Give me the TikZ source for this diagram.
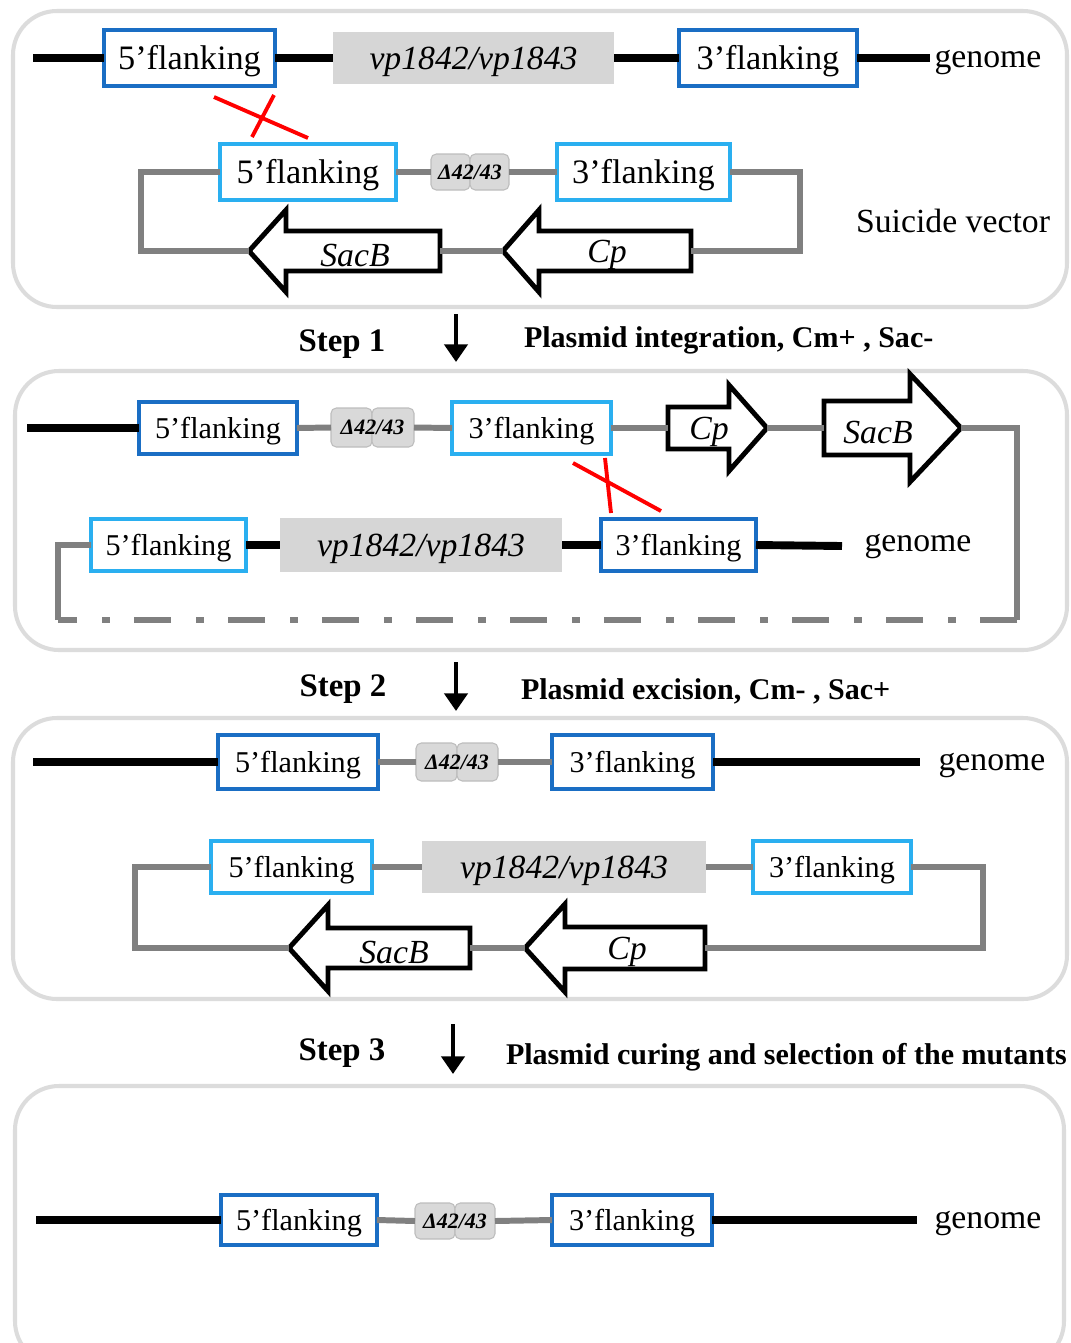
\documentclass[tikz,border=0pt]{standalone}
\usepackage{fontspec}
\setmainfont{Liberation Serif}
\usetikzlibrary{arrows.meta}
\definecolor{dkblue}{HTML}{1A6EC4}
\definecolor{ltblue}{HTML}{2AAFF0}
\definecolor{genegray}{HTML}{D6D6D6}
\definecolor{delgray}{HTML}{D9D9D9}
\definecolor{delborder}{HTML}{BDBDBD}
\definecolor{linegray}{HTML}{808080}
\definecolor{panelgray}{HTML}{DCDCDC}
\newcommand\ffa{\fontsize{19.5pt}{22pt}\selectfont}
\newcommand\ffb{\fontsize{17.2pt}{20pt}\selectfont}
\newcommand\fgn{\fontsize{19.2pt}{22pt}\selectfont}
\newcommand\fdel{\fontsize{12.5pt}{14pt}\selectfont\bfseries\itshape}
\newcommand\fstep{\fontsize{18.7pt}{21pt}\selectfont\bfseries}
\newcommand\fdesc{\fontsize{17.1pt}{20pt}\selectfont\bfseries}
% box: name, x1, y1, x2, y2, style, text
\newcommand\bx[7]{\node[#6, minimum width={(#4-#2)*0.02cm}, minimum height={(#5-#3)*0.02cm}] (#1) at ({(#2+#4)/2},{(#3+#5)/2}) {#7};}
% gene arrow: name, tipx, basex, endx, cy, bodyhalf, headhalf, labelx, label
\newcommand\garrow[9]{%
  \draw[gar] (#2,#5) -- (#3,#5-#7) -- (#3,#5-#6) -- (#4,#5-#6) -- (#4,#5+#6) -- (#3,#5+#6) -- (#3,#5+#7) -- cycle;
  \coordinate (#1tip) at (#2,#5);
  \coordinate (#1end) at (#4,#5);
  \node[font=\fgn\itshape] (#1) at (#8,#5+4) {#9};}
% deletion: name, x1, x2, x3, y1, y2
\newcommand\delbox[6]{%
  \node[del, minimum width={(#3-#2)*0.02cm}, minimum height={(#6-#5)*0.02cm}] (#1a) at ({(#2+#3)/2},{(#5+#6)/2}) {};
  \node[del, minimum width={(#4-#3)*0.02cm}, minimum height={(#6-#5)*0.02cm}] (#1b) at ({(#3+#4)/2},{(#5+#6)/2}) {};
  \node[font=\fdel] (#1t) at ({(#2+#4)/2},{(#5+#6)/2}) {Δ42/43};}
\begin{document}
\begin{tikzpicture}[x=0.02cm, y=-0.02cm,
  every node/.style={inner sep=0pt, outer sep=0pt},
  fa/.style={font=\ffa, text height=15.2pt, text depth=2.2pt},
  fb/.style={font=\ffb, text height=13.4pt, text depth=2pt},
  dk/.style={draw=dkblue, line width=2.3pt, fill=white},
  lt/.style={draw=ltblue, line width=2.3pt, fill=white},
  gene/.style={fill=genegray, draw=none, font=\fgn\itshape, text height=15pt, text depth=2.2pt},
  del/.style={fill=delgray, draw=delborder, line width=0.6pt, rounded corners=3pt},
  blk/.style={line width=4.5pt, black},
  gry/.style={line width=3.4pt, linegray, line join=miter},
  gar/.style={draw=black, line width=2.8pt, fill=white, line join=miter},
  panel/.style={draw=panelgray, line width=2.3pt, rounded corners=25pt},
  cross/.style={red, line width=2.2pt},
  stepar/.style={-{Triangle[length=10pt,width=13pt]}, line width=2.6pt, black}]
\useasboundingbox (0,0) rectangle (1071,1343);
\fill[white] (0,0) rectangle (1071,1343);

% ---------- panels ----------
\draw[panel] (13,11) rectangle (1067,307);
\draw[panel] (15,371) rectangle (1067,650);
\draw[panel] (13,718) rectangle (1067,999);
\draw[panel] (15,1086) rectangle (1064,1365);

% ---------- panel 1 ----------
\bx{a5}{104}{30}{275}{86}{dk,fa}{5’flanking}
\bx{avp}{333}{32}{614}{84}{gene}{vp1842/vp1843}
\bx{a3}{679}{30}{857}{86}{dk,fa}{3’flanking}
\coordinate (ag0) at (33,58);
\coordinate (ag1) at (930,58);
\node[font=\fgn] (agen) at (988,62) {genome};
\draw[blk] (ag0) -- (a5.west);
\draw[blk] (a5.east) -- (avp.west);
\draw[blk] (avp.east) -- (a3.west);
\draw[blk] (a3.east) -- (ag1);

\bx{b5}{220}{144}{396}{200}{lt,fa}{5’flanking}
\delbox{bd}{431}{470}{509}{154}{190}
\bx{b3}{557}{144}{730}{200}{lt,fa}{3’flanking}
\garrow{sbA}{249}{286}{440}{251}{20}{41}{355}{SacB}
\garrow{cpA}{503}{539}{691}{251}{20}{41}{607}{Cp}
\coordinate (rc1) at (800,251);
\coordinate (lc1) at (141,251);
\draw[gry] (b5.east) -- (bda.west);
\draw[gry] (bdb.east) -- (b3.west);
\draw[gry] (b3.east) -| (rc1) -- (cpAend);
\draw[gry] (cpAtip) -- (sbAend);
\draw[gry] (sbAtip) -- (lc1) |- (b5.west);
\node[font=\fgn] (sv) at (953,221) {Suicide vector};
\draw[cross] (214,97) -- (308,138);
\draw[cross] (274,95) -- (252,137);

% ---------- step 1 ----------
\node[font=\fstep] (s1) at (342,344) {Step 1};
\coordinate (s1a) at (456,314);
\coordinate (s1b) at (456,362);
\draw[stepar] (s1a) -- (s1b);
\node[font=\fdesc, anchor=west] (s1d) at (524,340) {Plasmid integration, Cm+ , Sac-};

% ---------- panel 2 ----------
\bx{c5}{139}{402}{297}{454}{dk,fb}{5’flanking}
\delbox{cd}{331}{372}{414}{408}{447}
\bx{c3}{452}{402}{611}{454}{lt,fb}{3’flanking}
\garrow{cpB}{767}{729}{668}{428}{21}{43}{709}{Cp}
\garrow{sbB}{961}{910}{824}{428}{27}{54}{878}{SacB}
\coordinate (cg0) at (27,428);
\coordinate (rc2) at (1017,428);
\coordinate (rb2) at (1017,620);
\coordinate (lb2) at (58,620);
\draw[blk] (cg0) -- (c5.west);
\draw[gry] (c5.east) -- (cda.west);
\draw[gry] (cdb.east) -- (c3.west);
\draw[gry] (c3.east) -- (cpBend);
\draw[gry] (cpBtip) -- (sbBend);
\draw[gry] (sbBtip) -- (rc2) -- (rb2);
\draw[gry, line cap=butt, dash pattern=on 21pt off 14pt on 4.5pt off 14pt] (rb2) -- (lb2);

\bx{d5}{91}{519}{246}{571}{lt,fb}{5’flanking}
\bx{dvp}{280}{518}{562}{572}{gene}{vp1842/vp1843}
\bx{d3}{601}{519}{756}{571}{dk,fb}{3’flanking}
\coordinate (dg1) at (842,546);
\draw[gry] (rb2) -- ++(-22,0);
\draw[gry] (lb2) -- ++(18,0);
\draw[gry] (lb2) |- (d5.west);
\draw[blk] (d5.east) -- (dvp.west);
\draw[blk] (dvp.east) -- (d3.west);
\draw[blk] (d3.east) -- (dg1);
\node[font=\fgn] (dgen) at (918,546) {genome};
\draw[cross] (573,463) -- (661,511);
\draw[cross] (605,458) -- (611,513);

% ---------- step 2 ----------
\node[font=\fstep] (s2) at (343,689) {Step 2};
\coordinate (s2a) at (456,662);
\coordinate (s2b) at (456,711);
\draw[stepar] (s2a) -- (s2b);
\node[font=\fdesc, anchor=west] (s2d) at (521,691) {Plasmid excision, Cm- , Sac+};

% ---------- panel 3 ----------
\bx{e5}{218}{735}{378}{789}{dk,fb}{5’flanking}
\delbox{ed}{416}{457}{498}{743}{781}
\bx{e3}{552}{735}{713}{789}{dk,fb}{3’flanking}
\coordinate (eg0) at (33,762);
\coordinate (eg1) at (920,762);
\draw[blk] (eg0) -- (e5.west);
\draw[gry] (e5.east) -- (eda.west);
\draw[gry] (edb.east) -- (e3.west);
\draw[blk] (e3.east) -- (eg1);
\node[font=\fgn] (egen) at (992,765) {genome};

\bx{f5}{211}{841}{372}{893}{lt,fb}{5’flanking}
\bx{fvp}{422}{841}{706}{893}{gene}{vp1842/vp1843}
\bx{f3}{753}{841}{911}{893}{lt,fb}{3’flanking}
\garrow{sbC}{289}{328}{470}{948}{20}{43}{394}{SacB}
\garrow{cpC}{525}{565}{705}{948}{21}{44}{627}{Cp}
\coordinate (rc3) at (983,948);
\coordinate (lc3) at (135,948);
\draw[gry] (f5.east) -- (fvp.west);
\draw[gry] (fvp.east) -- (f3.west);
\draw[gry] (f3.east) -| (rc3) -- (cpCend);
\draw[gry] (cpCtip) -- (sbCend);
\draw[gry] (sbCtip) -- (lc3) |- (f5.west);

% ---------- step 3 ----------
\node[font=\fstep] (s3) at (342,1053) {Step 3};
\coordinate (s3a) at (453,1024);
\coordinate (s3b) at (453,1074);
\draw[stepar] (s3a) -- (s3b);
\node[font=\fdesc, anchor=west] (s3d) at (506,1057) {Plasmid curing and selection of the mutants};

% ---------- panel 4 ----------
\bx{g5}{221}{1195}{377}{1245}{dk,fb}{5’flanking}
\delbox{gd}{415}{455}{495}{1203}{1239}
\bx{g3}{552}{1195}{712}{1245}{dk,fb}{3’flanking}
\coordinate (gg0) at (36,1220);
\coordinate (gg1) at (917,1220);
\draw[blk] (gg0) -- (g5.west);
\draw[gry] (g5.east) -- (gda.west);
\draw[gry] (gdb.east) -- (g3.west);
\draw[blk] (g3.east) -- (gg1);
\node[font=\fgn] (ggen) at (988,1223) {genome};
\end{tikzpicture}
\end{document}
